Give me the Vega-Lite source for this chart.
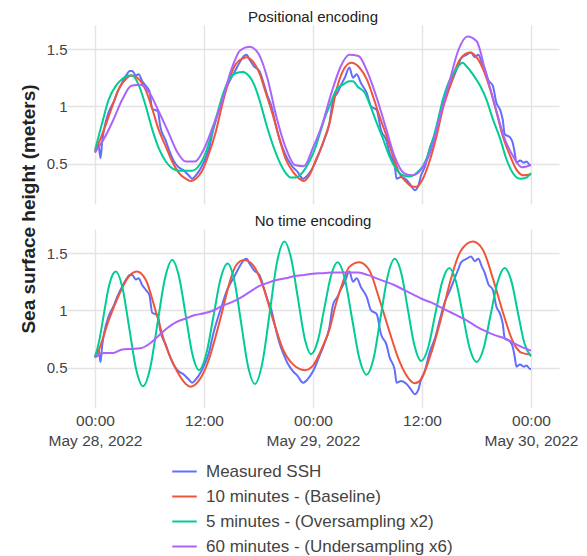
{
"$schema": "https://vega.github.io/schema/vega-lite/v6.json",
"padding": {"left": 19, "top": 10, "right": 5, "bottom": 5},
"config": {
  "font": "Liberation Sans",
  "view": {"stroke": null},
  "axis": {"domain": false, "ticks": false, "gridColor": "#e4e4e4", "gridWidth": 1.5, "labelColor": "#444", "labelFontSize": 15, "labelFont": "Liberation Sans"}
},
"data": {"values": [
{"p":"P","s":"m","t":"2022-05-28T00:00Z","v":0.60},{"p":"P","s":"m","t":"2022-05-28T00:24Z","v":0.66},{"p":"P","s":"m","t":"2022-05-28T00:36Z","v":0.55},{"p":"P","s":"m","t":"2022-05-28T00:48Z","v":0.70},{"p":"P","s":"m","t":"2022-05-28T01:00Z","v":0.80},{"p":"P","s":"m","t":"2022-05-28T01:30Z","v":0.95},{"p":"P","s":"m","t":"2022-05-28T02:00Z","v":1.03},{"p":"P","s":"m","t":"2022-05-28T02:30Z","v":1.13},{"p":"P","s":"m","t":"2022-05-28T03:00Z","v":1.21},{"p":"P","s":"m","t":"2022-05-28T03:30Z","v":1.28},{"p":"P","s":"m","t":"2022-05-28T03:48Z","v":1.31},{"p":"P","s":"m","t":"2022-05-28T04:06Z","v":1.31},{"p":"P","s":"m","t":"2022-05-28T04:30Z","v":1.27},{"p":"P","s":"m","t":"2022-05-28T04:48Z","v":1.28},{"p":"P","s":"m","t":"2022-05-28T05:12Z","v":1.22},{"p":"P","s":"m","t":"2022-05-28T05:36Z","v":1.18},{"p":"P","s":"m","t":"2022-05-28T06:00Z","v":1.13},{"p":"P","s":"m","t":"2022-05-28T06:18Z","v":0.98},{"p":"P","s":"m","t":"2022-05-28T06:54Z","v":0.96},{"p":"P","s":"m","t":"2022-05-28T07:12Z","v":0.82},{"p":"P","s":"m","t":"2022-05-28T07:48Z","v":0.70},{"p":"P","s":"m","t":"2022-05-28T08:12Z","v":0.61},{"p":"P","s":"m","t":"2022-05-28T08:42Z","v":0.52},{"p":"P","s":"m","t":"2022-05-28T09:12Z","v":0.47},{"p":"P","s":"m","t":"2022-05-28T09:48Z","v":0.44},{"p":"P","s":"m","t":"2022-05-28T10:18Z","v":0.40},{"p":"P","s":"m","t":"2022-05-28T10:42Z","v":0.37},{"p":"P","s":"m","t":"2022-05-28T11:06Z","v":0.40},{"p":"P","s":"m","t":"2022-05-28T11:24Z","v":0.43},{"p":"P","s":"m","t":"2022-05-28T12:00Z","v":0.52},{"p":"P","s":"m","t":"2022-05-28T12:30Z","v":0.62},{"p":"P","s":"m","t":"2022-05-28T13:00Z","v":0.79},{"p":"P","s":"m","t":"2022-05-28T13:30Z","v":0.93},{"p":"P","s":"m","t":"2022-05-28T14:00Z","v":1.05},{"p":"P","s":"m","t":"2022-05-28T14:24Z","v":1.15},{"p":"P","s":"m","t":"2022-05-28T14:48Z","v":1.22},{"p":"P","s":"m","t":"2022-05-28T15:18Z","v":1.29},{"p":"P","s":"m","t":"2022-05-28T15:54Z","v":1.38},{"p":"P","s":"m","t":"2022-05-28T16:24Z","v":1.44},{"p":"P","s":"m","t":"2022-05-28T16:42Z","v":1.45},{"p":"P","s":"m","t":"2022-05-28T17:00Z","v":1.41},{"p":"P","s":"m","t":"2022-05-28T17:30Z","v":1.35},{"p":"P","s":"m","t":"2022-05-28T18:06Z","v":1.31},{"p":"P","s":"m","t":"2022-05-28T18:30Z","v":1.22},{"p":"P","s":"m","t":"2022-05-28T19:00Z","v":1.09},{"p":"P","s":"m","t":"2022-05-28T19:24Z","v":1.01},{"p":"P","s":"m","t":"2022-05-28T19:45Z","v":0.89},{"p":"P","s":"m","t":"2022-05-28T20:18Z","v":0.72},{"p":"P","s":"m","t":"2022-05-28T20:42Z","v":0.63},{"p":"P","s":"m","t":"2022-05-28T21:12Z","v":0.54},{"p":"P","s":"m","t":"2022-05-28T21:48Z","v":0.47},{"p":"P","s":"m","t":"2022-05-28T22:18Z","v":0.43},{"p":"P","s":"m","t":"2022-05-28T22:54Z","v":0.37},{"p":"P","s":"m","t":"2022-05-28T23:24Z","v":0.40},{"p":"P","s":"m","t":"2022-05-29T00:00Z","v":0.47},{"p":"P","s":"m","t":"2022-05-29T00:42Z","v":0.60},{"p":"P","s":"m","t":"2022-05-29T01:12Z","v":0.70},{"p":"P","s":"m","t":"2022-05-29T01:48Z","v":0.85},{"p":"P","s":"m","t":"2022-05-29T02:12Z","v":1.05},{"p":"P","s":"m","t":"2022-05-29T02:42Z","v":1.12},{"p":"P","s":"m","t":"2022-05-29T03:06Z","v":1.19},{"p":"P","s":"m","t":"2022-05-29T03:30Z","v":1.25},{"p":"P","s":"m","t":"2022-05-29T04:00Z","v":1.34},{"p":"P","s":"m","t":"2022-05-29T04:24Z","v":1.25},{"p":"P","s":"m","t":"2022-05-29T04:48Z","v":1.28},{"p":"P","s":"m","t":"2022-05-29T05:18Z","v":1.20},{"p":"P","s":"m","t":"2022-05-29T05:54Z","v":1.12},{"p":"P","s":"m","t":"2022-05-29T06:24Z","v":1.00},{"p":"P","s":"m","t":"2022-05-29T07:00Z","v":0.97},{"p":"P","s":"m","t":"2022-05-29T07:30Z","v":0.79},{"p":"P","s":"m","t":"2022-05-29T08:06Z","v":0.70},{"p":"P","s":"m","t":"2022-05-29T08:24Z","v":0.60},{"p":"P","s":"m","t":"2022-05-29T09:00Z","v":0.48},{"p":"P","s":"m","t":"2022-05-29T09:12Z","v":0.37},{"p":"P","s":"m","t":"2022-05-29T09:42Z","v":0.385},{"p":"P","s":"m","t":"2022-05-29T10:18Z","v":0.36},{"p":"P","s":"m","t":"2022-05-29T10:48Z","v":0.31},{"p":"P","s":"m","t":"2022-05-29T11:12Z","v":0.27},{"p":"P","s":"m","t":"2022-05-29T11:36Z","v":0.31},{"p":"P","s":"m","t":"2022-05-29T11:54Z","v":0.40},{"p":"P","s":"m","t":"2022-05-29T12:18Z","v":0.47},{"p":"P","s":"m","t":"2022-05-29T12:54Z","v":0.65},{"p":"P","s":"m","t":"2022-05-29T13:24Z","v":0.75},{"p":"P","s":"m","t":"2022-05-29T14:00Z","v":0.93},{"p":"P","s":"m","t":"2022-05-29T14:30Z","v":1.07},{"p":"P","s":"m","t":"2022-05-29T15:06Z","v":1.18},{"p":"P","s":"m","t":"2022-05-29T15:36Z","v":1.28},{"p":"P","s":"m","t":"2022-05-29T16:00Z","v":1.36},{"p":"P","s":"m","t":"2022-05-29T16:18Z","v":1.42},{"p":"P","s":"m","t":"2022-05-29T16:54Z","v":1.45},{"p":"P","s":"m","t":"2022-05-29T17:24Z","v":1.47},{"p":"P","s":"m","t":"2022-05-29T17:48Z","v":1.43},{"p":"P","s":"m","t":"2022-05-29T18:12Z","v":1.45},{"p":"P","s":"m","t":"2022-05-29T18:36Z","v":1.38},{"p":"P","s":"m","t":"2022-05-29T18:54Z","v":1.33},{"p":"P","s":"m","t":"2022-05-29T19:18Z","v":1.23},{"p":"P","s":"m","t":"2022-05-29T19:48Z","v":1.18},{"p":"P","s":"m","t":"2022-05-29T20:12Z","v":1.03},{"p":"P","s":"m","t":"2022-05-29T20:36Z","v":0.97},{"p":"P","s":"m","t":"2022-05-29T20:54Z","v":0.88},{"p":"P","s":"m","t":"2022-05-29T21:06Z","v":0.76},{"p":"P","s":"m","t":"2022-05-29T21:42Z","v":0.73},{"p":"P","s":"m","t":"2022-05-29T22:00Z","v":0.68},{"p":"P","s":"m","t":"2022-05-29T22:12Z","v":0.60},{"p":"P","s":"m","t":"2022-05-29T22:24Z","v":0.51},{"p":"P","s":"m","t":"2022-05-29T22:48Z","v":0.53},{"p":"P","s":"m","t":"2022-05-29T23:12Z","v":0.51},{"p":"P","s":"m","t":"2022-05-29T23:30Z","v":0.52},{"p":"P","s":"m","t":"2022-05-29T23:54Z","v":0.49},{"p":"P","s":"m","t":"2022-05-30T00:00Z","v":0.49},
{"p":"N","s":"m","t":"2022-05-28T00:00Z","v":0.60},{"p":"N","s":"m","t":"2022-05-28T00:24Z","v":0.66},{"p":"N","s":"m","t":"2022-05-28T00:36Z","v":0.55},{"p":"N","s":"m","t":"2022-05-28T00:48Z","v":0.70},{"p":"N","s":"m","t":"2022-05-28T01:00Z","v":0.80},{"p":"N","s":"m","t":"2022-05-28T01:30Z","v":0.95},{"p":"N","s":"m","t":"2022-05-28T02:00Z","v":1.03},{"p":"N","s":"m","t":"2022-05-28T02:30Z","v":1.13},{"p":"N","s":"m","t":"2022-05-28T03:00Z","v":1.21},{"p":"N","s":"m","t":"2022-05-28T03:30Z","v":1.28},{"p":"N","s":"m","t":"2022-05-28T03:48Z","v":1.31},{"p":"N","s":"m","t":"2022-05-28T04:06Z","v":1.31},{"p":"N","s":"m","t":"2022-05-28T04:30Z","v":1.27},{"p":"N","s":"m","t":"2022-05-28T04:48Z","v":1.28},{"p":"N","s":"m","t":"2022-05-28T05:12Z","v":1.22},{"p":"N","s":"m","t":"2022-05-28T05:36Z","v":1.18},{"p":"N","s":"m","t":"2022-05-28T06:00Z","v":1.13},{"p":"N","s":"m","t":"2022-05-28T06:18Z","v":0.98},{"p":"N","s":"m","t":"2022-05-28T06:54Z","v":0.96},{"p":"N","s":"m","t":"2022-05-28T07:12Z","v":0.82},{"p":"N","s":"m","t":"2022-05-28T07:48Z","v":0.70},{"p":"N","s":"m","t":"2022-05-28T08:12Z","v":0.61},{"p":"N","s":"m","t":"2022-05-28T08:42Z","v":0.52},{"p":"N","s":"m","t":"2022-05-28T09:12Z","v":0.47},{"p":"N","s":"m","t":"2022-05-28T09:48Z","v":0.44},{"p":"N","s":"m","t":"2022-05-28T10:18Z","v":0.40},{"p":"N","s":"m","t":"2022-05-28T10:42Z","v":0.37},{"p":"N","s":"m","t":"2022-05-28T11:06Z","v":0.40},{"p":"N","s":"m","t":"2022-05-28T11:24Z","v":0.43},{"p":"N","s":"m","t":"2022-05-28T12:00Z","v":0.52},{"p":"N","s":"m","t":"2022-05-28T12:30Z","v":0.62},{"p":"N","s":"m","t":"2022-05-28T13:00Z","v":0.79},{"p":"N","s":"m","t":"2022-05-28T13:30Z","v":0.93},{"p":"N","s":"m","t":"2022-05-28T14:00Z","v":1.05},{"p":"N","s":"m","t":"2022-05-28T14:24Z","v":1.15},{"p":"N","s":"m","t":"2022-05-28T14:48Z","v":1.22},{"p":"N","s":"m","t":"2022-05-28T15:18Z","v":1.29},{"p":"N","s":"m","t":"2022-05-28T15:54Z","v":1.38},{"p":"N","s":"m","t":"2022-05-28T16:24Z","v":1.44},{"p":"N","s":"m","t":"2022-05-28T16:42Z","v":1.45},{"p":"N","s":"m","t":"2022-05-28T17:00Z","v":1.41},{"p":"N","s":"m","t":"2022-05-28T17:30Z","v":1.35},{"p":"N","s":"m","t":"2022-05-28T18:06Z","v":1.31},{"p":"N","s":"m","t":"2022-05-28T18:30Z","v":1.22},{"p":"N","s":"m","t":"2022-05-28T19:00Z","v":1.09},{"p":"N","s":"m","t":"2022-05-28T19:24Z","v":1.01},{"p":"N","s":"m","t":"2022-05-28T19:45Z","v":0.89},{"p":"N","s":"m","t":"2022-05-28T20:18Z","v":0.72},{"p":"N","s":"m","t":"2022-05-28T20:42Z","v":0.63},{"p":"N","s":"m","t":"2022-05-28T21:12Z","v":0.54},{"p":"N","s":"m","t":"2022-05-28T21:48Z","v":0.47},{"p":"N","s":"m","t":"2022-05-28T22:18Z","v":0.43},{"p":"N","s":"m","t":"2022-05-28T22:54Z","v":0.37},{"p":"N","s":"m","t":"2022-05-28T23:24Z","v":0.40},{"p":"N","s":"m","t":"2022-05-29T00:00Z","v":0.47},{"p":"N","s":"m","t":"2022-05-29T00:42Z","v":0.60},{"p":"N","s":"m","t":"2022-05-29T01:12Z","v":0.70},{"p":"N","s":"m","t":"2022-05-29T01:48Z","v":0.85},{"p":"N","s":"m","t":"2022-05-29T02:12Z","v":1.05},{"p":"N","s":"m","t":"2022-05-29T02:42Z","v":1.12},{"p":"N","s":"m","t":"2022-05-29T03:06Z","v":1.19},{"p":"N","s":"m","t":"2022-05-29T03:30Z","v":1.25},{"p":"N","s":"m","t":"2022-05-29T04:00Z","v":1.34},{"p":"N","s":"m","t":"2022-05-29T04:24Z","v":1.25},{"p":"N","s":"m","t":"2022-05-29T04:48Z","v":1.28},{"p":"N","s":"m","t":"2022-05-29T05:18Z","v":1.20},{"p":"N","s":"m","t":"2022-05-29T05:54Z","v":1.12},{"p":"N","s":"m","t":"2022-05-29T06:24Z","v":1.00},{"p":"N","s":"m","t":"2022-05-29T07:00Z","v":0.97},{"p":"N","s":"m","t":"2022-05-29T07:30Z","v":0.79},{"p":"N","s":"m","t":"2022-05-29T08:06Z","v":0.70},{"p":"N","s":"m","t":"2022-05-29T08:24Z","v":0.60},{"p":"N","s":"m","t":"2022-05-29T09:00Z","v":0.48},{"p":"N","s":"m","t":"2022-05-29T09:12Z","v":0.37},{"p":"N","s":"m","t":"2022-05-29T09:42Z","v":0.385},{"p":"N","s":"m","t":"2022-05-29T10:18Z","v":0.36},{"p":"N","s":"m","t":"2022-05-29T10:48Z","v":0.31},{"p":"N","s":"m","t":"2022-05-29T11:12Z","v":0.27},{"p":"N","s":"m","t":"2022-05-29T11:36Z","v":0.31},{"p":"N","s":"m","t":"2022-05-29T11:54Z","v":0.40},{"p":"N","s":"m","t":"2022-05-29T12:18Z","v":0.47},{"p":"N","s":"m","t":"2022-05-29T12:54Z","v":0.65},{"p":"N","s":"m","t":"2022-05-29T13:24Z","v":0.75},{"p":"N","s":"m","t":"2022-05-29T14:00Z","v":0.93},{"p":"N","s":"m","t":"2022-05-29T14:30Z","v":1.07},{"p":"N","s":"m","t":"2022-05-29T15:06Z","v":1.18},{"p":"N","s":"m","t":"2022-05-29T15:36Z","v":1.28},{"p":"N","s":"m","t":"2022-05-29T16:00Z","v":1.36},{"p":"N","s":"m","t":"2022-05-29T16:18Z","v":1.42},{"p":"N","s":"m","t":"2022-05-29T16:54Z","v":1.45},{"p":"N","s":"m","t":"2022-05-29T17:24Z","v":1.47},{"p":"N","s":"m","t":"2022-05-29T17:48Z","v":1.43},{"p":"N","s":"m","t":"2022-05-29T18:12Z","v":1.45},{"p":"N","s":"m","t":"2022-05-29T18:36Z","v":1.38},{"p":"N","s":"m","t":"2022-05-29T18:54Z","v":1.33},{"p":"N","s":"m","t":"2022-05-29T19:18Z","v":1.23},{"p":"N","s":"m","t":"2022-05-29T19:48Z","v":1.18},{"p":"N","s":"m","t":"2022-05-29T20:12Z","v":1.03},{"p":"N","s":"m","t":"2022-05-29T20:36Z","v":0.97},{"p":"N","s":"m","t":"2022-05-29T20:54Z","v":0.88},{"p":"N","s":"m","t":"2022-05-29T21:06Z","v":0.76},{"p":"N","s":"m","t":"2022-05-29T21:42Z","v":0.73},{"p":"N","s":"m","t":"2022-05-29T22:00Z","v":0.68},{"p":"N","s":"m","t":"2022-05-29T22:12Z","v":0.60},{"p":"N","s":"m","t":"2022-05-29T22:24Z","v":0.51},{"p":"N","s":"m","t":"2022-05-29T22:48Z","v":0.53},{"p":"N","s":"m","t":"2022-05-29T23:12Z","v":0.51},{"p":"N","s":"m","t":"2022-05-29T23:30Z","v":0.52},{"p":"N","s":"m","t":"2022-05-29T23:54Z","v":0.49},{"p":"N","s":"m","t":"2022-05-30T00:00Z","v":0.49},
{"p":"P","s":"b","t":"2022-05-28T00:00Z","v":0.60},{"p":"P","s":"b","t":"2022-05-28T01:00Z","v":0.80},{"p":"P","s":"b","t":"2022-05-28T01:54Z","v":1.00},{"p":"P","s":"b","t":"2022-05-28T02:36Z","v":1.15},{"p":"P","s":"b","t":"2022-05-28T03:24Z","v":1.24},{"p":"P","s":"b","t":"2022-05-28T04:00Z","v":1.27},{"p":"P","s":"b","t":"2022-05-28T04:48Z","v":1.24},{"p":"P","s":"b","t":"2022-05-28T05:36Z","v":1.14},{"p":"P","s":"b","t":"2022-05-28T06:18Z","v":0.98},{"p":"P","s":"b","t":"2022-05-28T07:00Z","v":0.80},{"p":"P","s":"b","t":"2022-05-28T07:48Z","v":0.65},{"p":"P","s":"b","t":"2022-05-28T08:30Z","v":0.52},{"p":"P","s":"b","t":"2022-05-28T09:15Z","v":0.42},{"p":"P","s":"b","t":"2022-05-28T10:00Z","v":0.37},{"p":"P","s":"b","t":"2022-05-28T10:30Z","v":0.35},{"p":"P","s":"b","t":"2022-05-28T11:06Z","v":0.37},{"p":"P","s":"b","t":"2022-05-28T11:48Z","v":0.44},{"p":"P","s":"b","t":"2022-05-28T12:33Z","v":0.59},{"p":"P","s":"b","t":"2022-05-28T13:18Z","v":0.78},{"p":"P","s":"b","t":"2022-05-28T14:03Z","v":1.03},{"p":"P","s":"b","t":"2022-05-28T14:48Z","v":1.24},{"p":"P","s":"b","t":"2022-05-28T15:30Z","v":1.37},{"p":"P","s":"b","t":"2022-05-28T16:18Z","v":1.42},{"p":"P","s":"b","t":"2022-05-28T16:42Z","v":1.43},{"p":"P","s":"b","t":"2022-05-28T17:24Z","v":1.39},{"p":"P","s":"b","t":"2022-05-28T18:06Z","v":1.29},{"p":"P","s":"b","t":"2022-05-28T18:48Z","v":1.12},{"p":"P","s":"b","t":"2022-05-28T19:36Z","v":0.92},{"p":"P","s":"b","t":"2022-05-28T20:18Z","v":0.72},{"p":"P","s":"b","t":"2022-05-28T21:00Z","v":0.54},{"p":"P","s":"b","t":"2022-05-28T21:48Z","v":0.43},{"p":"P","s":"b","t":"2022-05-28T22:30Z","v":0.37},{"p":"P","s":"b","t":"2022-05-28T23:00Z","v":0.35},{"p":"P","s":"b","t":"2022-05-28T23:36Z","v":0.40},{"p":"P","s":"b","t":"2022-05-29T00:21Z","v":0.54},{"p":"P","s":"b","t":"2022-05-29T00:42Z","v":0.60},{"p":"P","s":"b","t":"2022-05-29T01:18Z","v":0.73},{"p":"P","s":"b","t":"2022-05-29T01:48Z","v":0.85},{"p":"P","s":"b","t":"2022-05-29T02:36Z","v":1.15},{"p":"P","s":"b","t":"2022-05-29T03:18Z","v":1.31},{"p":"P","s":"b","t":"2022-05-29T04:12Z","v":1.38},{"p":"P","s":"b","t":"2022-05-29T05:06Z","v":1.34},{"p":"P","s":"b","t":"2022-05-29T05:54Z","v":1.24},{"p":"P","s":"b","t":"2022-05-29T06:36Z","v":1.09},{"p":"P","s":"b","t":"2022-05-29T07:18Z","v":0.92},{"p":"P","s":"b","t":"2022-05-29T08:06Z","v":0.74},{"p":"P","s":"b","t":"2022-05-29T08:48Z","v":0.57},{"p":"P","s":"b","t":"2022-05-29T09:30Z","v":0.42},{"p":"P","s":"b","t":"2022-05-29T10:18Z","v":0.34},{"p":"P","s":"b","t":"2022-05-29T11:00Z","v":0.30},{"p":"P","s":"b","t":"2022-05-29T11:24Z","v":0.30},{"p":"P","s":"b","t":"2022-05-29T12:06Z","v":0.37},{"p":"P","s":"b","t":"2022-05-29T12:54Z","v":0.54},{"p":"P","s":"b","t":"2022-05-29T13:36Z","v":0.74},{"p":"P","s":"b","t":"2022-05-29T14:18Z","v":0.98},{"p":"P","s":"b","t":"2022-05-29T15:06Z","v":1.18},{"p":"P","s":"b","t":"2022-05-29T15:48Z","v":1.35},{"p":"P","s":"b","t":"2022-05-29T16:30Z","v":1.44},{"p":"P","s":"b","t":"2022-05-29T17:18Z","v":1.47},{"p":"P","s":"b","t":"2022-05-29T18:00Z","v":1.43},{"p":"P","s":"b","t":"2022-05-29T18:42Z","v":1.33},{"p":"P","s":"b","t":"2022-05-29T19:30Z","v":1.15},{"p":"P","s":"b","t":"2022-05-29T20:12Z","v":0.95},{"p":"P","s":"b","t":"2022-05-29T20:54Z","v":0.74},{"p":"P","s":"b","t":"2022-05-29T21:42Z","v":0.57},{"p":"P","s":"b","t":"2022-05-29T22:24Z","v":0.45},{"p":"P","s":"b","t":"2022-05-29T23:12Z","v":0.40},{"p":"P","s":"b","t":"2022-05-30T00:00Z","v":0.41},
{"p":"P","s":"o","t":"2022-05-28T00:00Z","v":0.62},{"p":"P","s":"o","t":"2022-05-28T00:48Z","v":0.86},{"p":"P","s":"o","t":"2022-05-28T01:30Z","v":1.06},{"p":"P","s":"o","t":"2022-05-28T02:18Z","v":1.18},{"p":"P","s":"o","t":"2022-05-28T03:00Z","v":1.24},{"p":"P","s":"o","t":"2022-05-28T03:45Z","v":1.27},{"p":"P","s":"o","t":"2022-05-28T04:06Z","v":1.27},{"p":"P","s":"o","t":"2022-05-28T04:51Z","v":1.18},{"p":"P","s":"o","t":"2022-05-28T05:36Z","v":1.00},{"p":"P","s":"o","t":"2022-05-28T06:18Z","v":0.80},{"p":"P","s":"o","t":"2022-05-28T07:03Z","v":0.63},{"p":"P","s":"o","t":"2022-05-28T07:48Z","v":0.52},{"p":"P","s":"o","t":"2022-05-28T08:30Z","v":0.46},{"p":"P","s":"o","t":"2022-05-28T09:15Z","v":0.44},{"p":"P","s":"o","t":"2022-05-28T10:00Z","v":0.44},{"p":"P","s":"o","t":"2022-05-28T10:42Z","v":0.44},{"p":"P","s":"o","t":"2022-05-28T11:30Z","v":0.49},{"p":"P","s":"o","t":"2022-05-28T12:12Z","v":0.60},{"p":"P","s":"o","t":"2022-05-28T12:54Z","v":0.78},{"p":"P","s":"o","t":"2022-05-28T13:30Z","v":0.95},{"p":"P","s":"o","t":"2022-05-28T14:03Z","v":1.10},{"p":"P","s":"o","t":"2022-05-28T14:48Z","v":1.24},{"p":"P","s":"o","t":"2022-05-28T15:30Z","v":1.29},{"p":"P","s":"o","t":"2022-05-28T16:18Z","v":1.30},{"p":"P","s":"o","t":"2022-05-28T16:36Z","v":1.29},{"p":"P","s":"o","t":"2022-05-28T17:24Z","v":1.21},{"p":"P","s":"o","t":"2022-05-28T18:06Z","v":1.06},{"p":"P","s":"o","t":"2022-05-28T18:48Z","v":0.86},{"p":"P","s":"o","t":"2022-05-28T19:36Z","v":0.66},{"p":"P","s":"o","t":"2022-05-28T20:18Z","v":0.52},{"p":"P","s":"o","t":"2022-05-28T21:00Z","v":0.42},{"p":"P","s":"o","t":"2022-05-28T21:36Z","v":0.38},{"p":"P","s":"o","t":"2022-05-28T22:06Z","v":0.38},{"p":"P","s":"o","t":"2022-05-28T22:54Z","v":0.43},{"p":"P","s":"o","t":"2022-05-28T23:36Z","v":0.52},{"p":"P","s":"o","t":"2022-05-29T00:21Z","v":0.66},{"p":"P","s":"o","t":"2022-05-29T00:42Z","v":0.75},{"p":"P","s":"o","t":"2022-05-29T01:18Z","v":0.90},{"p":"P","s":"o","t":"2022-05-29T01:48Z","v":1.00},{"p":"P","s":"o","t":"2022-05-29T02:36Z","v":1.15},{"p":"P","s":"o","t":"2022-05-29T03:18Z","v":1.19},{"p":"P","s":"o","t":"2022-05-29T04:00Z","v":1.22},{"p":"P","s":"o","t":"2022-05-29T04:24Z","v":1.22},{"p":"P","s":"o","t":"2022-05-29T04:57Z","v":1.17},{"p":"P","s":"o","t":"2022-05-29T05:42Z","v":1.12},{"p":"P","s":"o","t":"2022-05-29T06:12Z","v":1.03},{"p":"P","s":"o","t":"2022-05-29T07:00Z","v":0.86},{"p":"P","s":"o","t":"2022-05-29T07:42Z","v":0.72},{"p":"P","s":"o","t":"2022-05-29T08:24Z","v":0.57},{"p":"P","s":"o","t":"2022-05-29T09:12Z","v":0.45},{"p":"P","s":"o","t":"2022-05-29T09:54Z","v":0.40},{"p":"P","s":"o","t":"2022-05-29T10:36Z","v":0.39},{"p":"P","s":"o","t":"2022-05-29T11:24Z","v":0.42},{"p":"P","s":"o","t":"2022-05-29T12:06Z","v":0.48},{"p":"P","s":"o","t":"2022-05-29T12:54Z","v":0.63},{"p":"P","s":"o","t":"2022-05-29T13:36Z","v":0.83},{"p":"P","s":"o","t":"2022-05-29T14:18Z","v":1.06},{"p":"P","s":"o","t":"2022-05-29T15:06Z","v":1.24},{"p":"P","s":"o","t":"2022-05-29T15:48Z","v":1.33},{"p":"P","s":"o","t":"2022-05-29T16:30Z","v":1.38},{"p":"P","s":"o","t":"2022-05-29T16:54Z","v":1.35},{"p":"P","s":"o","t":"2022-05-29T17:36Z","v":1.28},{"p":"P","s":"o","t":"2022-05-29T18:24Z","v":1.18},{"p":"P","s":"o","t":"2022-05-29T19:06Z","v":1.06},{"p":"P","s":"o","t":"2022-05-29T19:48Z","v":0.89},{"p":"P","s":"o","t":"2022-05-29T20:36Z","v":0.72},{"p":"P","s":"o","t":"2022-05-29T21:18Z","v":0.54},{"p":"P","s":"o","t":"2022-05-29T22:00Z","v":0.42},{"p":"P","s":"o","t":"2022-05-29T22:48Z","v":0.37},{"p":"P","s":"o","t":"2022-05-29T23:30Z","v":0.38},{"p":"P","s":"o","t":"2022-05-30T00:00Z","v":0.42},
{"p":"P","s":"u","t":"2022-05-28T00:00Z","v":0.60},{"p":"P","s":"u","t":"2022-05-28T01:00Z","v":0.72},{"p":"P","s":"u","t":"2022-05-28T02:00Z","v":0.88},{"p":"P","s":"u","t":"2022-05-28T03:00Z","v":1.06},{"p":"P","s":"u","t":"2022-05-28T04:00Z","v":1.18},{"p":"P","s":"u","t":"2022-05-28T05:00Z","v":1.19},{"p":"P","s":"u","t":"2022-05-28T06:00Z","v":1.12},{"p":"P","s":"u","t":"2022-05-28T07:00Z","v":0.96},{"p":"P","s":"u","t":"2022-05-28T08:00Z","v":0.79},{"p":"P","s":"u","t":"2022-05-28T09:00Z","v":0.61},{"p":"P","s":"u","t":"2022-05-28T10:00Z","v":0.52},{"p":"P","s":"u","t":"2022-05-28T11:00Z","v":0.52},{"p":"P","s":"u","t":"2022-05-28T12:00Z","v":0.63},{"p":"P","s":"u","t":"2022-05-28T13:00Z","v":0.83},{"p":"P","s":"u","t":"2022-05-28T14:00Z","v":1.05},{"p":"P","s":"u","t":"2022-05-28T15:00Z","v":1.32},{"p":"P","s":"u","t":"2022-05-28T16:00Z","v":1.49},{"p":"P","s":"u","t":"2022-05-28T17:00Z","v":1.52},{"p":"P","s":"u","t":"2022-05-28T18:00Z","v":1.46},{"p":"P","s":"u","t":"2022-05-28T19:00Z","v":1.24},{"p":"P","s":"u","t":"2022-05-28T20:00Z","v":0.90},{"p":"P","s":"u","t":"2022-05-28T21:00Z","v":0.64},{"p":"P","s":"u","t":"2022-05-28T22:00Z","v":0.49},{"p":"P","s":"u","t":"2022-05-28T23:00Z","v":0.48},{"p":"P","s":"u","t":"2022-05-29T00:00Z","v":0.64},{"p":"P","s":"u","t":"2022-05-29T01:00Z","v":0.84},{"p":"P","s":"u","t":"2022-05-29T02:00Z","v":1.11},{"p":"P","s":"u","t":"2022-05-29T03:00Z","v":1.34},{"p":"P","s":"u","t":"2022-05-29T04:00Z","v":1.45},{"p":"P","s":"u","t":"2022-05-29T05:00Z","v":1.44},{"p":"P","s":"u","t":"2022-05-29T06:00Z","v":1.30},{"p":"P","s":"u","t":"2022-05-29T07:00Z","v":1.08},{"p":"P","s":"u","t":"2022-05-29T08:00Z","v":0.82},{"p":"P","s":"u","t":"2022-05-29T09:00Z","v":0.56},{"p":"P","s":"u","t":"2022-05-29T10:00Z","v":0.42},{"p":"P","s":"u","t":"2022-05-29T11:00Z","v":0.40},{"p":"P","s":"u","t":"2022-05-29T12:00Z","v":0.46},{"p":"P","s":"u","t":"2022-05-29T13:00Z","v":0.62},{"p":"P","s":"u","t":"2022-05-29T14:00Z","v":0.92},{"p":"P","s":"u","t":"2022-05-29T15:00Z","v":1.21},{"p":"P","s":"u","t":"2022-05-29T16:00Z","v":1.49},{"p":"P","s":"u","t":"2022-05-29T17:00Z","v":1.61},{"p":"P","s":"u","t":"2022-05-29T18:00Z","v":1.57},{"p":"P","s":"u","t":"2022-05-29T19:00Z","v":1.30},{"p":"P","s":"u","t":"2022-05-29T20:00Z","v":1.02},{"p":"P","s":"u","t":"2022-05-29T21:00Z","v":0.74},{"p":"P","s":"u","t":"2022-05-29T22:00Z","v":0.57},{"p":"P","s":"u","t":"2022-05-29T23:00Z","v":0.47},{"p":"P","s":"u","t":"2022-05-30T00:00Z","v":0.49},
{"p":"N","s":"b","t":"2022-05-28T00:00Z","v":0.59},{"p":"N","s":"b","t":"2022-05-28T00:26Z","v":0.66},{"p":"N","s":"b","t":"2022-05-28T01:32Z","v":0.92},{"p":"N","s":"b","t":"2022-05-28T02:38Z","v":1.135},{"p":"N","s":"b","t":"2022-05-28T03:34Z","v":1.28},{"p":"N","s":"b","t":"2022-05-28T04:36Z","v":1.34},{"p":"N","s":"b","t":"2022-05-28T05:36Z","v":1.265},{"p":"N","s":"b","t":"2022-05-28T06:42Z","v":0.99},{"p":"N","s":"b","t":"2022-05-28T07:48Z","v":0.69},{"p":"N","s":"b","t":"2022-05-28T08:54Z","v":0.49},{"p":"N","s":"b","t":"2022-05-28T10:00Z","v":0.36},{"p":"N","s":"b","t":"2022-05-28T10:30Z","v":0.335},{"p":"N","s":"b","t":"2022-05-28T11:27Z","v":0.39},{"p":"N","s":"b","t":"2022-05-28T12:33Z","v":0.575},{"p":"N","s":"b","t":"2022-05-28T13:18Z","v":0.78},{"p":"N","s":"b","t":"2022-05-28T14:03Z","v":1.005},{"p":"N","s":"b","t":"2022-05-28T14:48Z","v":1.24},{"p":"N","s":"b","t":"2022-05-28T15:30Z","v":1.39},{"p":"N","s":"b","t":"2022-05-28T16:24Z","v":1.44},{"p":"N","s":"b","t":"2022-05-28T17:24Z","v":1.395},{"p":"N","s":"b","t":"2022-05-28T18:30Z","v":1.21},{"p":"N","s":"b","t":"2022-05-28T19:36Z","v":0.92},{"p":"N","s":"b","t":"2022-05-28T20:42Z","v":0.66},{"p":"N","s":"b","t":"2022-05-28T21:48Z","v":0.53},{"p":"N","s":"b","t":"2022-05-28T23:06Z","v":0.48},{"p":"N","s":"b","t":"2022-05-29T00:00Z","v":0.52},{"p":"N","s":"b","t":"2022-05-29T00:42Z","v":0.62},{"p":"N","s":"b","t":"2022-05-29T01:12Z","v":0.71},{"p":"N","s":"b","t":"2022-05-29T01:48Z","v":0.83},{"p":"N","s":"b","t":"2022-05-29T02:30Z","v":1.05},{"p":"N","s":"b","t":"2022-05-29T03:18Z","v":1.25},{"p":"N","s":"b","t":"2022-05-29T04:00Z","v":1.38},{"p":"N","s":"b","t":"2022-05-29T05:06Z","v":1.42},{"p":"N","s":"b","t":"2022-05-29T06:12Z","v":1.35},{"p":"N","s":"b","t":"2022-05-29T07:18Z","v":1.10},{"p":"N","s":"b","t":"2022-05-29T08:24Z","v":0.82},{"p":"N","s":"b","t":"2022-05-29T09:30Z","v":0.56},{"p":"N","s":"b","t":"2022-05-29T10:36Z","v":0.40},{"p":"N","s":"b","t":"2022-05-29T11:12Z","v":0.365},{"p":"N","s":"b","t":"2022-05-29T11:54Z","v":0.40},{"p":"N","s":"b","t":"2022-05-29T12:51Z","v":0.59},{"p":"N","s":"b","t":"2022-05-29T14:00Z","v":0.90},{"p":"N","s":"b","t":"2022-05-29T15:06Z","v":1.25},{"p":"N","s":"b","t":"2022-05-29T16:12Z","v":1.51},{"p":"N","s":"b","t":"2022-05-29T17:36Z","v":1.60},{"p":"N","s":"b","t":"2022-05-29T18:42Z","v":1.53},{"p":"N","s":"b","t":"2022-05-29T19:48Z","v":1.28},{"p":"N","s":"b","t":"2022-05-29T21:00Z","v":0.96},{"p":"N","s":"b","t":"2022-05-29T22:00Z","v":0.73},{"p":"N","s":"b","t":"2022-05-29T23:00Z","v":0.63},{"p":"N","s":"b","t":"2022-05-30T00:00Z","v":0.615},
{"p":"N","s":"o","t":"2022-05-28T00:00Z","v":0.59},{"p":"N","s":"o","t":"2022-05-28T00:30Z","v":0.75},{"p":"N","s":"o","t":"2022-05-28T01:00Z","v":0.98},{"p":"N","s":"o","t":"2022-05-28T01:30Z","v":1.20},{"p":"N","s":"o","t":"2022-05-28T02:00Z","v":1.32},{"p":"N","s":"o","t":"2022-05-28T02:17Z","v":1.34},{"p":"N","s":"o","t":"2022-05-28T03:02Z","v":1.194},{"p":"N","s":"o","t":"2022-05-28T03:47Z","v":0.84},{"p":"N","s":"o","t":"2022-05-28T04:32Z","v":0.486},{"p":"N","s":"o","t":"2022-05-28T05:17Z","v":0.34},{"p":"N","s":"o","t":"2022-05-28T06:05Z","v":0.501},{"p":"N","s":"o","t":"2022-05-28T06:53Z","v":0.89},{"p":"N","s":"o","t":"2022-05-28T07:42Z","v":1.279},{"p":"N","s":"o","t":"2022-05-28T08:30Z","v":1.44},{"p":"N","s":"o","t":"2022-05-28T09:14Z","v":1.30},{"p":"N","s":"o","t":"2022-05-28T09:59Z","v":0.96},{"p":"N","s":"o","t":"2022-05-28T10:43Z","v":0.62},{"p":"N","s":"o","t":"2022-05-28T11:27Z","v":0.48},{"p":"N","s":"o","t":"2022-05-28T12:14Z","v":0.616},{"p":"N","s":"o","t":"2022-05-28T13:02Z","v":0.945},{"p":"N","s":"o","t":"2022-05-28T13:49Z","v":1.274},{"p":"N","s":"o","t":"2022-05-28T14:36Z","v":1.41},{"p":"N","s":"o","t":"2022-05-28T15:21Z","v":1.257},{"p":"N","s":"o","t":"2022-05-28T16:06Z","v":0.885},{"p":"N","s":"o","t":"2022-05-28T16:51Z","v":0.513},{"p":"N","s":"o","t":"2022-05-28T17:36Z","v":0.36},{"p":"N","s":"o","t":"2022-05-28T18:25Z","v":0.541},{"p":"N","s":"o","t":"2022-05-28T19:14Z","v":0.98},{"p":"N","s":"o","t":"2022-05-28T20:02Z","v":1.419},{"p":"N","s":"o","t":"2022-05-28T20:51Z","v":1.60},{"p":"N","s":"o","t":"2022-05-28T21:35Z","v":1.457},{"p":"N","s":"o","t":"2022-05-28T22:20Z","v":1.11},{"p":"N","s":"o","t":"2022-05-28T23:04Z","v":0.763},{"p":"N","s":"o","t":"2022-05-28T23:48Z","v":0.62},{"p":"N","s":"o","t":"2022-05-29T00:32Z","v":0.737},{"p":"N","s":"o","t":"2022-05-29T01:15Z","v":1.02},{"p":"N","s":"o","t":"2022-05-29T01:59Z","v":1.303},{"p":"N","s":"o","t":"2022-05-29T02:42Z","v":1.42},{"p":"N","s":"o","t":"2022-05-29T03:30Z","v":1.277},{"p":"N","s":"o","t":"2022-05-29T04:18Z","v":0.93},{"p":"N","s":"o","t":"2022-05-29T05:06Z","v":0.583},{"p":"N","s":"o","t":"2022-05-29T05:54Z","v":0.44},{"p":"N","s":"o","t":"2022-05-29T06:41Z","v":0.587},{"p":"N","s":"o","t":"2022-05-29T07:27Z","v":0.945},{"p":"N","s":"o","t":"2022-05-29T08:14Z","v":1.303},{"p":"N","s":"o","t":"2022-05-29T09:00Z","v":1.45},{"p":"N","s":"o","t":"2022-05-29T09:44Z","v":1.32},{"p":"N","s":"o","t":"2022-05-29T10:27Z","v":1.005},{"p":"N","s":"o","t":"2022-05-29T11:11Z","v":0.69},{"p":"N","s":"o","t":"2022-05-29T11:54Z","v":0.56},{"p":"N","s":"o","t":"2022-05-29T12:41Z","v":0.678},{"p":"N","s":"o","t":"2022-05-29T13:27Z","v":0.965},{"p":"N","s":"o","t":"2022-05-29T14:14Z","v":1.252},{"p":"N","s":"o","t":"2022-05-29T15:00Z","v":1.37},{"p":"N","s":"o","t":"2022-05-29T15:45Z","v":1.25},{"p":"N","s":"o","t":"2022-05-29T16:30Z","v":0.96},{"p":"N","s":"o","t":"2022-05-29T17:15Z","v":0.67},{"p":"N","s":"o","t":"2022-05-29T18:00Z","v":0.55},{"p":"N","s":"o","t":"2022-05-29T18:47Z","v":0.67},{"p":"N","s":"o","t":"2022-05-29T19:33Z","v":0.96},{"p":"N","s":"o","t":"2022-05-29T20:20Z","v":1.25},{"p":"N","s":"o","t":"2022-05-29T21:06Z","v":1.37},{"p":"N","s":"o","t":"2022-05-29T21:50Z","v":1.258},{"p":"N","s":"o","t":"2022-05-29T22:33Z","v":0.985},{"p":"N","s":"o","t":"2022-05-29T23:17Z","v":0.712},{"p":"N","s":"o","t":"2022-05-30T00:00Z","v":0.60},
{"p":"N","s":"u","t":"2022-05-28T00:00Z","v":0.59},{"p":"N","s":"u","t":"2022-05-28T01:00Z","v":0.63},{"p":"N","s":"u","t":"2022-05-28T02:00Z","v":0.63},{"p":"N","s":"u","t":"2022-05-28T03:00Z","v":0.66},{"p":"N","s":"u","t":"2022-05-28T04:00Z","v":0.665},{"p":"N","s":"u","t":"2022-05-28T05:00Z","v":0.67},{"p":"N","s":"u","t":"2022-05-28T06:00Z","v":0.71},{"p":"N","s":"u","t":"2022-05-28T07:00Z","v":0.78},{"p":"N","s":"u","t":"2022-05-28T08:00Z","v":0.85},{"p":"N","s":"u","t":"2022-05-28T09:00Z","v":0.90},{"p":"N","s":"u","t":"2022-05-28T10:00Z","v":0.93},{"p":"N","s":"u","t":"2022-05-28T11:00Z","v":0.96},{"p":"N","s":"u","t":"2022-05-28T12:00Z","v":0.975},{"p":"N","s":"u","t":"2022-05-28T13:00Z","v":1.00},{"p":"N","s":"u","t":"2022-05-28T14:00Z","v":1.04},{"p":"N","s":"u","t":"2022-05-28T15:00Z","v":1.07},{"p":"N","s":"u","t":"2022-05-28T16:00Z","v":1.11},{"p":"N","s":"u","t":"2022-05-28T17:00Z","v":1.16},{"p":"N","s":"u","t":"2022-05-28T18:00Z","v":1.21},{"p":"N","s":"u","t":"2022-05-28T19:00Z","v":1.24},{"p":"N","s":"u","t":"2022-05-28T20:00Z","v":1.265},{"p":"N","s":"u","t":"2022-05-28T21:00Z","v":1.28},{"p":"N","s":"u","t":"2022-05-28T22:00Z","v":1.30},{"p":"N","s":"u","t":"2022-05-28T23:00Z","v":1.31},{"p":"N","s":"u","t":"2022-05-29T00:00Z","v":1.32},{"p":"N","s":"u","t":"2022-05-29T01:00Z","v":1.325},{"p":"N","s":"u","t":"2022-05-29T02:00Z","v":1.33},{"p":"N","s":"u","t":"2022-05-29T03:00Z","v":1.33},{"p":"N","s":"u","t":"2022-05-29T04:00Z","v":1.33},{"p":"N","s":"u","t":"2022-05-29T05:00Z","v":1.33},{"p":"N","s":"u","t":"2022-05-29T06:00Z","v":1.31},{"p":"N","s":"u","t":"2022-05-29T07:00Z","v":1.28},{"p":"N","s":"u","t":"2022-05-29T08:00Z","v":1.25},{"p":"N","s":"u","t":"2022-05-29T09:00Z","v":1.22},{"p":"N","s":"u","t":"2022-05-29T10:00Z","v":1.18},{"p":"N","s":"u","t":"2022-05-29T11:00Z","v":1.14},{"p":"N","s":"u","t":"2022-05-29T12:00Z","v":1.10},{"p":"N","s":"u","t":"2022-05-29T13:00Z","v":1.07},{"p":"N","s":"u","t":"2022-05-29T14:00Z","v":1.03},{"p":"N","s":"u","t":"2022-05-29T15:00Z","v":0.99},{"p":"N","s":"u","t":"2022-05-29T16:00Z","v":0.95},{"p":"N","s":"u","t":"2022-05-29T17:00Z","v":0.91},{"p":"N","s":"u","t":"2022-05-29T18:00Z","v":0.86},{"p":"N","s":"u","t":"2022-05-29T19:00Z","v":0.82},{"p":"N","s":"u","t":"2022-05-29T20:00Z","v":0.785},{"p":"N","s":"u","t":"2022-05-29T21:00Z","v":0.76},{"p":"N","s":"u","t":"2022-05-29T22:00Z","v":0.72},{"p":"N","s":"u","t":"2022-05-29T23:00Z","v":0.68},{"p":"N","s":"u","t":"2022-05-30T00:00Z","v":0.65}
]},
"facet": {"row": {"field": "p", "type": "nominal", "sort": ["P", "N"],
  "header": {"labelOrient": "top", "labelAngle": 0, "labelExpr": "datum.value == 'P' ? 'Positional encoding' : 'No time encoding'", "labelFontSize": 15, "labelColor": "#222", "labelPadding": -15,
    "title": "Sea surface height (meters)", "titleOrient": "left", "titleFontSize": 19, "titleFontWeight": "bold", "titleColor": "#222", "titlePadding": -3}}},
"spacing": 10,
"spec": {
  "width": 492, "height": 179,
  "mark": {"type": "line", "strokeWidth": 2, "interpolate": "monotone"},
  "encoding": {
    "x": {"field": "t", "type": "temporal", "title": null,
      "scale": {"type": "utc", "nice": false, "domain": [{"year": 2022, "month": 5, "date": 27, "hours": 20, "minutes": 55, "utc": true}, {"year": 2022, "month": 5, "date": 30, "hours": 3, "minutes": 5, "utc": true}]},
      "axis": {"values": [{"year": 2022, "month": 5, "date": 28, "hours": 0, "utc": true}, {"year": 2022, "month": 5, "date": 28, "hours": 12, "utc": true}, {"year": 2022, "month": 5, "date": 29, "hours": 0, "utc": true}, {"year": 2022, "month": 5, "date": 29, "hours": 12, "utc": true}, {"year": 2022, "month": 5, "date": 30, "hours": 0, "utc": true}],
        "labelExpr": "utchours(datum.value) == 0 ? [utcFormat(datum.value, '%H:%M'), utcFormat(datum.value, '%b %d, %Y')] : utcFormat(datum.value, '%H:%M')",
        "labelPadding": 5, "labelLineHeight": 20, "labelFontSize": 15.5}},
    "y": {"field": "v", "type": "quantitative", "title": null,
      "scale": {"domain": [0.15, 1.71], "nice": false, "zero": false},
      "axis": {"values": [0.5, 1, 1.5], "format": "~g", "labelPadding": 0}},
    "color": {"field": "s", "type": "nominal",
      "scale": {"domain": ["m", "b", "o", "u"], "range": ["#636efa", "#ef553b", "#00cc96", "#ab63fa"]},
      "legend": {"title": null, "orient": "none", "legendX": 104, "legendY": 433, "direction": "vertical", "symbolType": "stroke", "symbolSize": 600, "symbolStrokeWidth": 2, "labelFontSize": 17, "labelColor": "#444", "labelOffset": 8, "rowPadding": 3, "labelLimit": 400,
        "labelExpr": "datum.value == 'm' ? 'Measured SSH' : datum.value == 'b' ? '10 minutes - (Baseline)' : datum.value == 'o' ? '5 minutes - (Oversampling x2)' : '60 minutes - (Undersampling x6)'"}}
  }
}
}
